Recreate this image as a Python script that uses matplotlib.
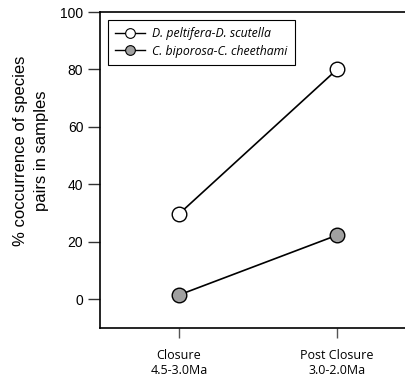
import matplotlib
matplotlib.use("Agg")
import matplotlib.pyplot as plt
from matplotlib.lines import Line2D

categories = ["Closure\n4.5-3.0Ma", "Post Closure\n3.0-2.0Ma"]
series_names = ["D. peltifera-D. scutella", "C. biporosa-C. cheethami"]
d_values = [29.7, 80.0]
c_values = [1.5, 22.3]
y_ticks = [0, 20, 40, 60, 80, 100]

fig = plt.figure(figsize=(4.05, 3.77), dpi=100)
ax = fig.add_axes([100/405, 1 - 328/377, 316/405, 316/377])

x = [1, 2]
ax.plot(x, d_values, color="black", lw=1.2, marker="o", ms=10.5,
        mfc="white", mec="black", mew=1.0, zorder=3)
ax.plot(x, c_values, color="black", lw=1.2, marker="o", ms=10.5,
        mfc="#a0a0a0", mec="black", mew=1.0, zorder=3)

ax.set_xlim(0.5, 2.5)
ax.set_ylim(-10, 100)
ax.set_yticks(y_ticks)
ax.set_yticklabels([str(v) for v in y_ticks], fontfamily="Liberation Sans", fontsize=10)
ax.set_xticks(x)
ax.set_xticklabels(categories, fontfamily="Open Sans", fontsize=9)
ax.tick_params(axis="y", direction="out", length=8.5, width=1.0, color="#333333", pad=3.5)
ax.tick_params(axis="x", direction="out", length=7, width=1.0, color="#555555", pad=8)
for s in ax.spines.values():
    s.set_linewidth(1.2)

fig.text(31.5/405, 1 - 151/377, "% coccurrence of species\npairs in samples",
         fontfamily="Liberation Sans", fontsize=12, linespacing=1.5,
         rotation=90, ha="center", va="center")

handles = [
    Line2D([], [], color="black", lw=1.0, marker="o", ms=7, mfc="white", mec="black", mew=0.8),
    Line2D([], [], color="black", lw=1.0, marker="o", ms=7, mfc="#a0a0a0", mec="black", mew=0.8),
]
leg = ax.legend(handles, series_names, loc="upper left", bbox_to_anchor=(0.025, 0.975),
                prop={"family": "Open Sans", "style": "italic", "size": 8.8},
                fancybox=False, edgecolor="black", framealpha=1, handlelength=2.4,
                handletextpad=0.6, borderpad=0.6, labelspacing=0.35, borderaxespad=0)
leg.get_frame().set_linewidth(0.8)

fig.savefig("out.png", dpi=100)
